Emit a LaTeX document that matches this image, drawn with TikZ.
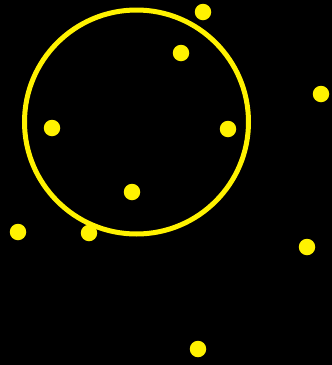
\documentclass[tikz,border=0pt]{standalone}
\begin{document}
\begin{tikzpicture}[x=1pt,y=-1pt,
  dot/.style={circle,fill=yellow,inner sep=0pt,minimum size=16.5pt},
  ring/.style={circle,draw=yellow,line width=5pt,inner sep=0pt,minimum size=224pt}]
\fill[black] (0,0) rectangle (332,365);
\useasboundingbox (0,0) rectangle (332,365);
\node[ring] (c) at (136.5,122) {};
\node[dot] (d1) at (203,12) {};
\node[dot] (d2) at (181,53) {};
\node[dot] (d3) at (321,94) {};
\node[dot] (d4) at (52,128) {};
\node[dot] (d5) at (228,129) {};
\node[dot] (d6) at (132,192) {};
\node[dot] (d7) at (18,232) {};
\node[dot] (d8) at (89,233) {};
\node[dot] (d9) at (307,247) {};
\node[dot] (d10) at (198,349) {};
\end{tikzpicture}
\end{document}
